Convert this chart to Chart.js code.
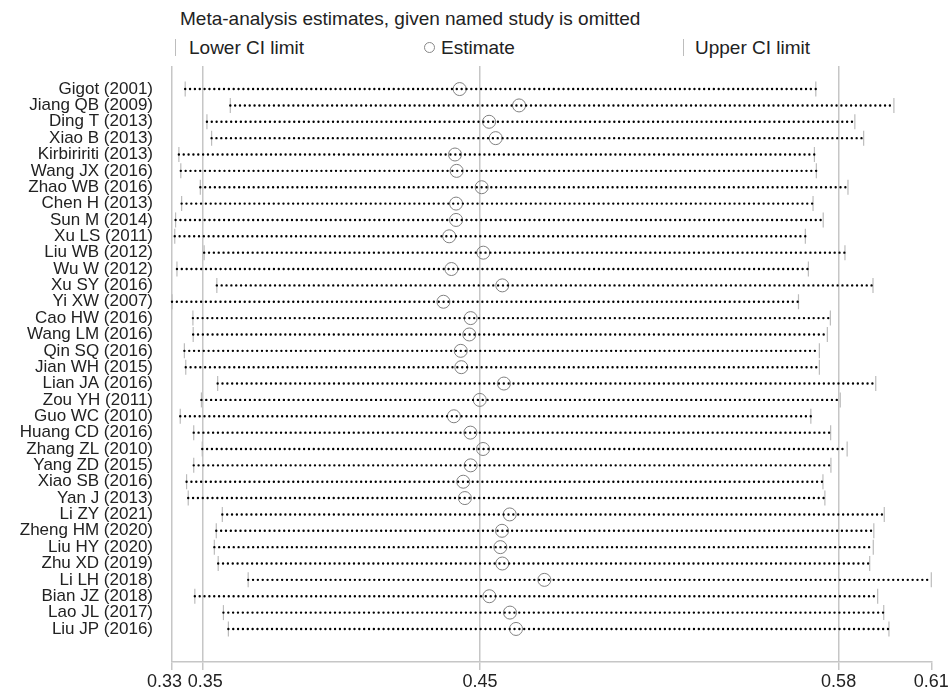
<!DOCTYPE html>
<html>
<head>
<meta charset="utf-8">
<script src="https://cdn.jsdelivr.net/npm/chart.js@4.4.1/dist/chart.umd.min.js"></script>
<style>
  body { margin: 0; background: #fff; font-family: "Liberation Sans", Arial, Helvetica, sans-serif; color: #222; }
  #wrap { position: relative; width: 952px; height: 692px; }
  #title { position: absolute; left: 180px; top: 9px; font-size: 19px; line-height: 19px; white-space: nowrap; }
  .txt { position: absolute; top: 38px; font-size: 19px; line-height: 19px; white-space: nowrap; }
  .bar { position: absolute; top: 39px; width: 1px; height: 17px; background: #bdbdbd; }
  .ring { position: absolute; top: 42px; width: 9px; height: 9px; border: 1px solid #888; border-radius: 50%; }
  canvas { position: absolute; left: 0; top: 0; }
</style>
</head>
<body>
<div id="wrap">
  <div id="title">Meta-analysis estimates, given named study is omitted</div>
  <div class="bar" style="left:175px"></div>
  <div class="txt" style="left:189px">Lower CI limit</div>
  <div class="ring" style="left:424px"></div>
  <div class="txt" style="left:441px">Estimate</div>
  <div class="bar" style="left:683px"></div>
  <div class="txt" style="left:695px">Upper CI limit</div>
  <canvas id="chart" width="952" height="692"></canvas>
</div>
<script>
// studies, top to bottom
const studies = [
  "Gigot (2001)", "Jiang QB (2009)", "Ding T (2013)", "Xiao B (2013)", "Kirbiririti (2013)",
  "Wang JX (2016)", "Zhao WB (2016)", "Chen H (2013)", "Sun M (2014)", "Xu LS (2011)",
  "Liu WB (2012)", "Wu W (2012)", "Xu SY (2016)", "Yi XW (2007)", "Cao HW (2016)",
  "Wang LM (2016)", "Qin SQ (2016)", "Jian WH (2015)", "Lian JA (2016)", "Zou YH (2011)",
  "Guo WC (2010)", "Huang CD (2016)", "Zhang ZL (2010)", "Yang ZD (2015)", "Xiao SB (2016)",
  "Yan J (2013)", "Li ZY (2021)", "Zheng HM (2020)", "Liu HY (2020)", "Zhu XD (2019)",
  "Li LH (2018)", "Bian JZ (2018)", "Lao JL (2017)", "Liu JP (2016)"
];

const lower = [0.3388, 0.3552, 0.3467, 0.3484, 0.3365, 0.3372, 0.3443, 0.3375, 0.3353, 0.3350,
  0.3457, 0.3358, 0.3503, 0.3340, 0.3416, 0.3417, 0.3385, 0.3390, 0.3506, 0.3447,
  0.3370, 0.3419, 0.3450, 0.3419, 0.3393, 0.3399, 0.3523, 0.3501, 0.3494, 0.3508,
  0.3617, 0.3423, 0.3527, 0.3545];

const estimate = [0.4386, 0.4602, 0.4493, 0.4517, 0.4369, 0.4375, 0.4466, 0.4373, 0.4373, 0.4348,
  0.4472, 0.4356, 0.4541, 0.4327, 0.4426, 0.4421, 0.4390, 0.4392, 0.4547, 0.4459,
  0.4365, 0.4425, 0.4471, 0.4426, 0.4399, 0.4405, 0.4568, 0.4540, 0.4534, 0.4541,
  0.4694, 0.4494, 0.4569, 0.4591];

const upper = [0.5681, 0.5965, 0.5823, 0.5855, 0.5676, 0.5683, 0.5798, 0.5671, 0.5708, 0.5643,
  0.5787, 0.5654, 0.5889, 0.5618, 0.5734, 0.5723, 0.5694, 0.5694, 0.5899, 0.5770,
  0.5663, 0.5735, 0.5795, 0.5736, 0.5707, 0.5714, 0.5930, 0.5892, 0.5890, 0.5877,
  0.6101, 0.5906, 0.5928, 0.5947];

// pooled estimate with all studies: lower CI, estimate, upper CI
const overall = [0.3452, 0.4460, 0.5764];

const xMin = Math.min(...lower);
const xMax = Math.max(...upper);
const xTicks = [xMin, ...overall, xMax];

const gray = "#c6c6c6";
const font = "'Liberation Sans', Arial, Helvetica, sans-serif";

// dotted line from lower to upper limit, one per study
const ciLines = studies.map((s, i) => ({
  showLine: true,
  data: [{ x: lower[i], y: i }, { x: upper[i], y: i }],
  borderColor: "#000",
  borderWidth: 2.4,
  borderDash: [0, 4.85],
  borderCapStyle: "round",
  pointRadius: 0,
  clip: false
}));

const tickStyle = {
  pointStyle: "line",
  rotation: 90,
  radius: 7.5,
  borderColor: "#bcbcbc",
  borderWidth: 1.2,
  clip: false
};

new Chart(document.getElementById("chart"), {
  type: "scatter",
  data: {
    datasets: [
      ...ciLines,
      { ...tickStyle, data: lower.map((v, i) => ({ x: v, y: i })) },
      { ...tickStyle, data: upper.map((v, i) => ({ x: v, y: i })) },
      {
        data: estimate.map((v, i) => ({ x: v, y: i })),
        pointStyle: "circle",
        radius: 6.5,
        borderColor: "#808080",
        borderWidth: 1,
        backgroundColor: "rgba(0,0,0,0)",
        clip: false
      }
    ]
  },
  options: {
    responsive: false,
    animation: false,
    devicePixelRatio: 1,
    layout: { padding: { top: 66, right: 20.7, left: 0, bottom: 0 } },
    plugins: { legend: { display: false }, tooltip: { enabled: false } },
    scales: {
      x: {
        type: "linear",
        min: xMin,
        max: xMax,
        afterBuildTicks: (scale) => { scale.ticks = xTicks.map(v => ({ value: v })); },
        afterFit: (scale) => { scale.height = 30; },
        grid: {
          color: (ctx) => ctx.index === xTicks.length - 1 ? "rgba(0,0,0,0)" : gray,
          lineWidth: 1.5,
          tickColor: gray,
          tickLength: 8
        },
        border: { display: true, color: gray, width: 1.5 },
        ticks: {
          autoSkip: false,
          maxRotation: 0,
          padding: 1,
          color: "#222",
          font: { family: font, size: 18 },
          callback: (v, i) => {
            const t = Number(v).toFixed(2);
            if (i === 0) return t + "   ";
            if (i === 1) return " " + t;
            return t;
          }
        }
      },
      y: {
        type: "linear",
        reverse: true,
        min: -1.41,
        max: studies.length - 1 + 2.02,
        afterBuildTicks: (scale) => { scale.ticks = studies.map((s, i) => ({ value: i })); },
        afterFit: (scale) => { scale.width = 172; },
        grid: { display: false, drawTicks: false },
        border: { display: false },
        ticks: {
          autoSkip: false,
          padding: 19,
          color: "#222",
          font: { family: font, size: 17 },
          callback: (v) => studies[v] ?? ""
        }
      }
    }
  }
});
</script>
</body>
</html>
